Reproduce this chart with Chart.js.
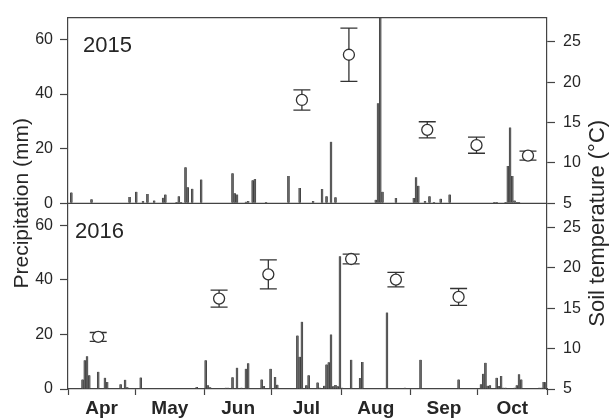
<!DOCTYPE html>
<html lang="en">
<head>
<meta charset="UTF-8" />
<title>Precipitation and soil temperature 2015-2016</title>
<script src="https://cdn.jsdelivr.net/npm/chart.js"></script>
<style>
  html, body { margin: 0; padding: 0; background: #fff; }
</style>
</head>
<body>
<canvas id="myChart" width="609" height="419"></canvas>
<script>
// days are counted from 1 April (Apr 1 = 1); marks sit in the middle of their day
const monthNames = ["Apr", "May", "Jun", "Jul", "Aug", "Sep", "Oct"];
const monthStarts = [0, 30, 61, 91, 122, 153, 183, 214];

const rainDays2015 = [2, 11, 28, 31, 34, 36, 39, 43, 44, 49, 50, 51, 53, 54, 56, 60, 74, 75, 76, 80,
  81, 83, 84, 89, 99, 104, 110, 114, 116, 118, 120, 138, 139, 140, 141, 147, 155, 156, 157, 160,
  162, 164, 167, 171, 191, 192, 196, 197, 198, 199, 200, 201, 202];
// the storm on day 140 runs off the top of the axis
const rainMm2015 = [4.0, 1.5, 2.3, 4.2, 0.8, 3.4, 1.0, 2.0, 3.2, 0.5, 2.6, 0.5, 13.2, 5.9, 5.3, 8.7, 11.0, 3.7, 3.2, 0.6,
  0.8, 8.4, 8.9, 0.5, 10.0, 5.6, 0.8, 5.2, 2.6, 22.5, 2.2, 1.3, 36.6, 80, 4.2, 1.9, 1.9, 9.5, 6.4, 0.8,
  2.6, 0.5, 1.7, 3.2, 0.5, 0.5, 0.5, 13.7, 27.8, 10.0, 1.0, 0.5, 0.5];

const rainDays2016 = [7, 8, 9, 10, 14, 17, 18, 24, 26, 27, 33, 58, 62, 63, 64, 71, 72, 74, 76, 78,
  80, 81, 87, 88, 91, 93, 94, 103, 104, 105, 107, 108, 112, 113, 115, 116, 117, 118, 119, 120,
  121, 122, 123, 127, 131, 132, 143, 151, 158, 175, 185, 186, 187, 188, 189, 192, 193, 194, 195, 196,
  200, 201, 202, 203, 211, 212, 213, 214];
const rainMm2016 = [3.5, 10.5, 12.0, 5.0, 6.3, 4.1, 2.6, 1.7, 3.4, 0.6, 4.2, 0.7, 10.5, 1.4, 0.6, 0.5, 0.5, 4.3, 7.8, 0.5,
  7.4, 9.4, 3.5, 1.1, 7.4, 4.4, 1.6, 19.6, 11.8, 24.6, 1.4, 5.0, 2.4, 0.5, 1.2, 9.0, 9.8, 20.0, 1.0, 1.5,
  1.0, 48.6, 0.5, 10.7, 4.0, 9.9, 28.0, 0.5, 10.7, 3.5, 1.7, 5.6, 9.6, 1.2, 1.4, 4.1, 1.1, 4.8, 0.5, 0.5,
  0.5, 1.4, 5.4, 3.5, 0.5, 0.5, 2.6, 2.5];

// soil temperature: mean and error per sampling date
const soilDays2015 = [105, 126, 161, 183, 206];
const soilTemp2015 = [17.8, 23.4, 14.1, 12.2, 10.9];
const soilErr2015 = [1.25, 3.3, 1.0, 1.0, 0.55];

const soilDays2016 = [14, 68, 90, 127, 147, 175];
const soilTemp2016 = [11.45, 16.2, 19.2, 21.1, 18.55, 16.4];
const soilErr2016 = [0.55, 1.05, 1.8, 0.6, 0.9, 1.05];

const precipTicks = [0, 20, 40, 60];
const tempTicks = [5, 10, 15, 20, 25];

const axisColor = "#444";
const textColor = "#262626";
const fontFamily = "'Liberation Sans', Arial, sans-serif";

const toBars = (days, mm) => days.map((d, i) => ({ x: d - 0.5, y: mm[i] }));
const toPoints = (days, t) => days.map((d, i) => ({ x: d - 0.5, y: t[i] }));

// x ticks: month boundaries (tick marks) alternating with mid-month (labels)
const xTicks = [];
monthStarts.forEach((s, i) => {
  xTicks.push(s);
  if (i < monthNames.length) xTicks.push((s + monthStarts[i + 1]) / 2);
});

const fixTicks = (values) => (scale) => {
  scale.ticks = values.map((v) => ({ value: v }));
};

function rainAxis(values) {
  return {
    type: "linear",
    position: "left",
    stack: "rain",
    stackWeight: 1,
    min: 0,
    max: 68,
    afterBuildTicks: fixTicks(values),
    afterFit: (s) => { s.width = 68; },
    grid: { drawOnChartArea: false, tickLength: 8, tickColor: axisColor, tickWidth: 1.2 },
    border: { color: axisColor, width: 1.2 },
    ticks: { color: textColor, font: { family: fontFamily, size: 16 }, padding: 7 },
  };
}

function soilAxis(values) {
  return {
    type: "linear",
    position: "right",
    stack: "soil",
    stackWeight: 1,
    min: 5,
    max: 28,
    afterBuildTicks: fixTicks(values),
    afterFit: (s) => { s.width = 62; },
    grid: { drawOnChartArea: false, tickLength: 8, tickColor: axisColor, tickWidth: 1.2 },
    border: { color: axisColor, width: 1.2 },
    ticks: { color: textColor, font: { family: fontFamily, size: 16 }, padding: 8 },
  };
}

const barStyle = {
  type: "bar",
  grouped: false,
  barThickness: 2,
  backgroundColor: "#666",
  borderColor: "#2e2e2e",
  borderWidth: { left: 0.6, right: 0.6, top: 0, bottom: 0 },
  borderSkipped: false,
  order: 2,
};

const pointStyle = {
  type: "scatter",
  pointRadius: 5.5,
  pointBackgroundColor: "#fff",
  pointBorderColor: "#333",
  pointBorderWidth: 1.3,
  order: 0,
};

const errors = { t15: soilErr2015, t16: soilErr2016 };

// error bars under the circles, frame lines, axis titles and year labels
const panelDecor = {
  id: "panelDecor",
  beforeDatasetsDraw(chart) {
    const { ctx, scales } = chart;
    ctx.save();
    ctx.strokeStyle = "#333";
    ctx.lineWidth = 1.3;
    chart.data.datasets.forEach((ds) => {
      if (ds.type !== "scatter") return;
      const ys = scales[ds.yAxisID];
      const err = errors[ds.yAxisID];
      ds.data.forEach((p, i) => {
        const x = scales.x.getPixelForValue(p.x);
        const top = ys.getPixelForValue(p.y + err[i]);
        const bot = ys.getPixelForValue(p.y - err[i]);
        ctx.beginPath();
        ctx.moveTo(x, top); ctx.lineTo(x, bot);
        ctx.moveTo(x - 8.5, top); ctx.lineTo(x + 8.5, top);
        ctx.moveTo(x - 8.5, bot); ctx.lineTo(x + 8.5, bot);
        ctx.stroke();
      });
    });
    ctx.restore();
  },
  afterDraw(chart) {
    const { ctx, chartArea: a, scales } = chart;
    ctx.save();
    ctx.strokeStyle = axisColor;
    ctx.lineWidth = 1.2;
    const mid = scales.p15.getPixelForValue(0);
    ctx.beginPath();
    ctx.moveTo(a.left, a.top); ctx.lineTo(a.right, a.top);
    ctx.moveTo(a.left, mid); ctx.lineTo(a.right, mid);
    ctx.stroke();

    ctx.fillStyle = textColor;
    ctx.font = "22px " + fontFamily;
    ctx.textAlign = "left";
    ctx.textBaseline = "alphabetic";
    ctx.fillText("2015", a.left + 15, scales.p15.top + 34);
    ctx.fillText("2016", a.left + 7, scales.p16.top + 35);

    ctx.textAlign = "center";
    ctx.textBaseline = "middle";
    const cy = (a.top + a.bottom) / 2;
    ctx.save();
    ctx.font = "21px " + fontFamily;
    ctx.translate(22, cy);
    ctx.rotate(-Math.PI / 2);
    ctx.fillText("Precipitation (mm)", 0, 0);
    ctx.restore();
    ctx.save();
    ctx.font = "22px " + fontFamily;
    ctx.translate(598, cy + 20);
    ctx.rotate(-Math.PI / 2);
    ctx.fillText("Soil temperature (\u00B0C)", 0, 0);
    ctx.restore();
    ctx.restore();
  },
};

const config = {
  type: "bar",
  data: {
    datasets: [
      { ...pointStyle, data: toPoints(soilDays2015, soilTemp2015), yAxisID: "t15" },
      { ...pointStyle, data: toPoints(soilDays2016, soilTemp2016), yAxisID: "t16" },
      { ...barStyle, data: toBars(rainDays2015, rainMm2015), yAxisID: "p15" },
      { ...barStyle, data: toBars(rainDays2016, rainMm2016), yAxisID: "p16" },
    ],
  },
  options: {
    responsive: false,
    animation: false,
    layout: { padding: { top: 12, left: 0, right: 0, bottom: 0 } },
    plugins: { legend: { display: false }, tooltip: { enabled: false } },
    scales: {
      x: {
        type: "linear",
        position: "bottom",
        min: 0,
        max: 214,
        offset: false,
        afterBuildTicks: fixTicks(xTicks),
        afterFit: (s) => { s.height = 30; },
        grid: {
          offset: false,
          drawOnChartArea: false,
          tickLength: 6,
          tickWidth: 1.2,
          tickColor: (c) => (c.index % 2 === 0 ? axisColor : "rgba(0,0,0,0)"),
        },
        border: { color: axisColor, width: 1.2 },
        ticks: {
          autoSkip: false,
          maxRotation: 0,
          minRotation: 0,
          padding: 2,
          color: textColor,
          font: { family: fontFamily, size: 19, weight: "bold" },
          callback: (v, i) => (i % 2 === 1 ? monthNames[(i - 1) / 2] : ""),
        },
      },
      p16: rainAxis(precipTicks),
      p15: rainAxis(precipTicks),
      t15: soilAxis(tempTicks),
      t16: soilAxis(tempTicks),
    },
  },
  plugins: [panelDecor],
};

const myChart = new Chart(document.getElementById("myChart"), config);
</script>
</body>
</html>
